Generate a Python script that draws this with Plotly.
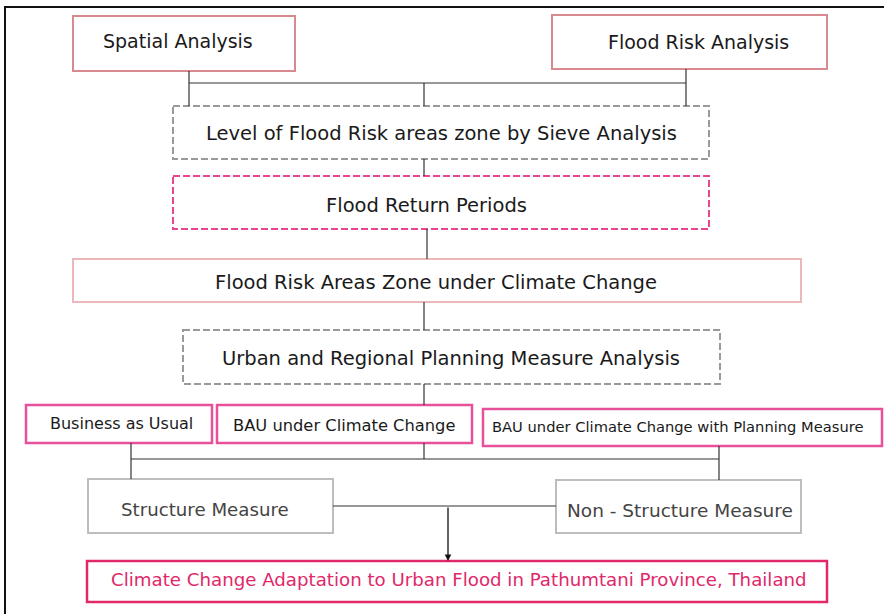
import plotly.graph_objects as go

# ---- content ----
labels = [
    "Spatial Analysis",
    "Flood Risk Analysis",
    "Level of Flood Risk areas zone by Sieve Analysis",
    "Flood Return Periods",
    "Flood Risk Areas Zone under Climate Change",
    "Urban and Regional Planning Measure Analysis",
    "Business as Usual",
    "BAU under Climate Change",
    "BAU under Climate Change with Planning Measure",
    "Structure Measure",
    "Non - Structure Measure",
    "Climate Change Adaptation to Urban Flood in Pathumtani Province, Thailand",
]

# ---- layout (pixel boxes: x0, y0, x1, y1) ----
boxes = [
    (73, 16, 295, 71),
    (552, 15, 827, 69),
    (173, 106, 709, 159),
    (173, 176, 709, 229),
    (73, 259, 801, 302),
    (183, 330, 720, 384),
    (26, 405, 212, 443),
    (217, 405, 472, 443),
    (483, 409, 882, 446),
    (88, 479, 333, 533),
    (556, 480, 801, 533),
    (87, 561, 827, 602),
]
text_centers = [
    (178, 41), (698, 42), (441, 133), (426, 205), (436, 282), (451, 358),
    (121, 423), (344, 425), (678, 426), (205, 509), (680, 510), (459, 579),
]
border_colors = ["#d98a90", "#d98a90", "#9a9a9a", "#e8468f", "#ebb8bc", "#9a9a9a",
                 "#e8509a", "#e8509a", "#e8509a", "#bdbdbd", "#bdbdbd", "#e0286a"]
dashes = ["solid", "solid", "7px,3px", "7px,3px", "solid", "7px,3px",
          "solid", "solid", "solid", "solid", "solid", "solid"]
widths = [2, 2, 2, 2, 2, 2, 2.5, 2.5, 2.5, 2, 2, 2.5]
font_sizes = [19, 19, 19.5, 19.5, 19.5, 19.5, 16, 16.3, 14.7, 18.2, 18.5, 18.2]
text_colors = ["#1a1a1a", "#1a1a1a", "#1a1a1a", "#1a1a1a", "#1a1a1a", "#1a1a1a",
               "#1a1a1a", "#1a1a1a", "#1a1a1a", "#444", "#444", "#e0286a"]

connectors = [
    (189, 71, 189, 106),
    (686, 69, 686, 106),
    (189, 83, 686, 83),
    (424, 83, 424, 106),
    (424, 159, 424, 176),
    (427, 229, 427, 259),
    (424, 302, 424, 330),
    (424, 384, 424, 405),
    (131, 443, 131, 479),
    (131, 459, 719, 459),
    (424, 443, 424, 459),
    (719, 446, 719, 480),
    (333, 506, 556, 506),
]

fig = go.Figure()
shapes = []
annotations = []

# outer frame
shapes.append(dict(type="rect", xref="x", yref="y", x0=5, y0=7, x1=892, y1=620,
                   line=dict(color="#111", width=2)))

for (x0, y0, x1, y1), c, d, w in zip(boxes, border_colors, dashes, widths):
    shapes.append(dict(type="rect", xref="x", yref="y", x0=x0, y0=y0, x1=x1, y1=y1,
                       line=dict(color=c, width=w, dash=d), fillcolor="white", layer="below"))

for (x0, y0, x1, y1) in connectors:
    shapes.append(dict(type="line", xref="x", yref="y", x0=x0, y0=y0, x1=x1, y1=y1,
                       line=dict(color="#333", width=1.2)))

for lab, (cx, cy), fs, tc in zip(labels, text_centers, font_sizes, text_colors):
    annotations.append(dict(x=cx, y=cy, xref="x", yref="y",
                            text=lab, showarrow=False,
                            font=dict(family="DejaVu Sans", size=fs, color=tc)))

# arrow to final box
annotations.append(dict(x=448, y=561, ax=448, ay=506, xref="x", yref="y",
                        axref="x", ayref="y", text="", showarrow=True,
                        arrowhead=2, arrowsize=1, arrowwidth=1.3, arrowcolor="#111"))

fig.update_layout(
    width=884, height=614,
    margin=dict(l=0, r=0, t=0, b=0),
    paper_bgcolor="white", plot_bgcolor="white",
    xaxis=dict(range=[0, 884], visible=False, fixedrange=True),
    yaxis=dict(range=[614, 0], visible=False, fixedrange=True),
    shapes=shapes, annotations=annotations, showlegend=False,
)
fig.write_html("out.html", config={"displayModeBar": False},
               post_script="document.body.style.margin='0';document.body.style.overflow='hidden';")
